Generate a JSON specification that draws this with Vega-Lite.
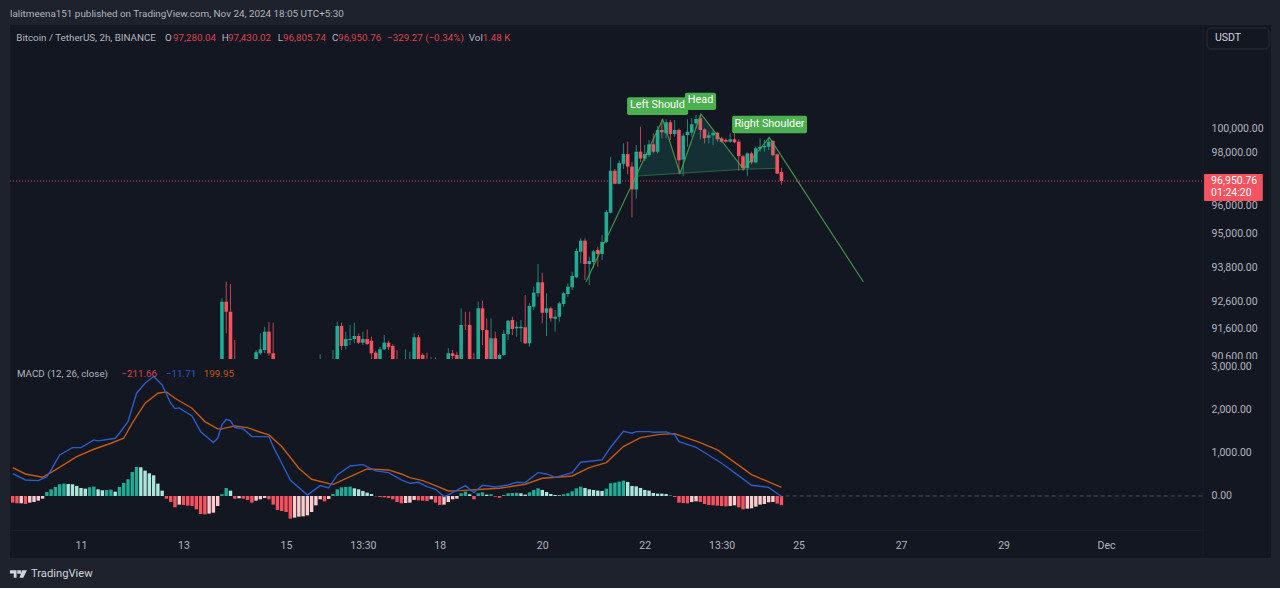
{
  "$schema": "https://vega.github.io/schema/vega-lite/v6.json",
  "background": "#1e222d",
  "padding": {"left": 9, "top": 9, "right": 10, "bottom": 8},
  "autosize": {"type": "pad"},
  "bounds": "flush",
  "spacing": 0,
  "config": {
    "view": {"fill": "#131722", "stroke": null},
    "axis": {"grid": false, "ticks": false, "domain": false, "labelColor": "#b2b5be", "labelFont": "Roboto", "labelFontSize": 10.5, "labelOverlap": false, "labelFlush": false},
    "text": {"font": "Roboto"}
  },
  "datasets": {
    "frame": [{"t": "2024-12-02T22:54Z", "p0": 90493, "p1": 103811, "v0": -1432, "v1": 3166}],
    "candles": [
      {"t":"2024-11-24T17:30Z","o":97280,"h":97430,"l":96805,"c":96950},
      {"t":"2024-11-24T15:30Z","o":97913,"h":97951,"l":97208,"c":97219},
      {"t":"2024-11-24T13:30Z","o":98916,"h":99000,"l":97849,"c":97887},
      {"t":"2024-11-24T11:30Z","o":98441,"h":99191,"l":98167,"c":98858},
      {"t":"2024-11-24T09:30Z","o":98392,"h":99000,"l":98025,"c":98500},
      {"t":"2024-11-24T07:30Z","o":98275,"h":99141,"l":98025,"c":98441},
      {"t":"2024-11-24T05:30Z","o":97623,"h":98441,"l":97596,"c":98308},
      {"t":"2024-11-24T03:30Z","o":97951,"h":98025,"l":97559,"c":97623},
      {"t":"2024-11-24T01:30Z","o":97423,"h":97989,"l":97121,"c":97951},
      {"t":"2024-11-23T23:30Z","o":97849,"h":97887,"l":97321,"c":97423},
      {"t":"2024-11-23T21:30Z","o":98858,"h":99058,"l":97321,"c":97849},
      {"t":"2024-11-23T19:30Z","o":99058,"h":99608,"l":98725,"c":98808},
      {"t":"2024-11-23T17:30Z","o":98858,"h":99558,"l":98775,"c":99058},
      {"t":"2024-11-23T15:30Z","o":99000,"h":99141,"l":98775,"c":98858},
      {"t":"2024-11-23T13:30Z","o":99141,"h":99275,"l":98775,"c":98858},
      {"t":"2024-11-23T11:30Z","o":99608,"h":99691,"l":98858,"c":99058},
      {"t":"2024-11-23T09:30Z","o":99391,"h":99833,"l":98583,"c":99608},
      {"t":"2024-11-23T07:30Z","o":99191,"h":99691,"l":98725,"c":99391},
      {"t":"2024-11-23T05:30Z","o":99891,"h":99975,"l":98725,"c":99141},
      {"t":"2024-11-23T03:30Z","o":100359,"h":100481,"l":99058,"c":99833},
      {"t":"2024-11-23T01:30Z","o":100174,"h":100481,"l":99975,"c":100333},
      {"t":"2024-11-22T23:30Z","o":99608,"h":100359,"l":99275,"c":100137},
      {"t":"2024-11-22T21:30Z","o":99417,"h":100322,"l":98441,"c":99691},
      {"t":"2024-11-22T19:30Z","o":97725,"h":99558,"l":97121,"c":99358},
      {"t":"2024-11-22T17:30Z","o":99833,"h":99975,"l":97196,"c":97698},
      {"t":"2024-11-22T15:30Z","o":99500,"h":100296,"l":99275,"c":99833},
      {"t":"2024-11-22T13:30Z","o":100211,"h":100296,"l":99000,"c":99500},
      {"t":"2024-11-22T11:30Z","o":99558,"h":100322,"l":99141,"c":100211},
      {"t":"2024-11-22T09:30Z","o":99833,"h":100322,"l":99141,"c":99641},
      {"t":"2024-11-22T07:30Z","o":98025,"h":100074,"l":97951,"c":99833},
      {"t":"2024-11-22T05:30Z","o":98641,"h":99558,"l":97951,"c":98025},
      {"t":"2024-11-22T03:30Z","o":97887,"h":99000,"l":97823,"c":98641},
      {"t":"2024-11-22T01:30Z","o":97762,"h":98583,"l":97672,"c":97925},
      {"t":"2024-11-21T23:30Z","o":98025,"h":100048,"l":97634,"c":97762},
      {"t":"2024-11-21T21:30Z","o":96615,"h":98583,"l":96253,"c":98025},
      {"t":"2024-11-21T19:30Z","o":97472,"h":97634,"l":95561,"c":96615},
      {"t":"2024-11-21T17:30Z","o":97925,"h":98858,"l":97196,"c":97472},
      {"t":"2024-11-21T15:30Z","o":97574,"h":98725,"l":97385,"c":97925},
      {"t":"2024-11-21T13:30Z","o":96842,"h":97698,"l":96819,"c":97596},
      {"t":"2024-11-21T11:30Z","o":97321,"h":97385,"l":96819,"c":96842},
      {"t":"2024-11-21T09:30Z","o":95725,"h":97823,"l":95703,"c":97321},
      {"t":"2024-11-21T07:30Z","o":94683,"h":95821,"l":94637,"c":95750},
      {"t":"2024-11-21T05:30Z","o":94259,"h":94930,"l":94047,"c":94683},
      {"t":"2024-11-21T03:30Z","o":94400,"h":94517,"l":93811,"c":94259},
      {"t":"2024-11-21T01:30Z","o":93977,"h":94400,"l":93754,"c":94354},
      {"t":"2024-11-20T23:30Z","o":93906,"h":94164,"l":93165,"c":94012},
      {"t":"2024-11-20T21:30Z","o":94729,"h":94813,"l":93341,"c":93906},
      {"t":"2024-11-20T19:30Z","o":94340,"h":94813,"l":93929,"c":94729},
      {"t":"2024-11-20T17:30Z","o":93437,"h":94460,"l":93401,"c":94364},
      {"t":"2024-11-20T15:30Z","o":93084,"h":93634,"l":92988,"c":93483},
      {"t":"2024-11-20T13:30Z","o":92847,"h":93225,"l":92752,"c":93105},
      {"t":"2024-11-20T11:30Z","o":92489,"h":92928,"l":92388,"c":92872},
      {"t":"2024-11-20T09:30Z","o":92018,"h":92574,"l":91833,"c":92514},
      {"t":"2024-11-20T07:30Z","o":91944,"h":92266,"l":91468,"c":92018},
      {"t":"2024-11-20T05:30Z","o":92329,"h":92388,"l":91833,"c":91959},
      {"t":"2024-11-20T03:30Z","o":92166,"h":92872,"l":91314,"c":92329},
      {"t":"2024-11-20T01:30Z","o":93260,"h":93599,"l":91774,"c":92166},
      {"t":"2024-11-19T23:30Z","o":92872,"h":93906,"l":92752,"c":93260},
      {"t":"2024-11-19T21:30Z","o":92388,"h":93105,"l":92266,"c":92896},
      {"t":"2024-11-19T19:30Z","o":91053,"h":92514,"l":90932,"c":92414},
      {"t":"2024-11-19T17:30Z","o":91626,"h":92812,"l":91028,"c":91053},
      {"t":"2024-11-19T15:30Z","o":91588,"h":91896,"l":91111,"c":91648},
      {"t":"2024-11-19T13:30Z","o":91588,"h":91833,"l":91289,"c":91648},
      {"t":"2024-11-19T11:30Z","o":91896,"h":92018,"l":91350,"c":91564},
      {"t":"2024-11-19T09:30Z","o":91385,"h":91896,"l":91171,"c":91870},
      {"t":"2024-11-19T07:30Z","o":90636,"h":91529,"l":90600,"c":91385},
      {"t":"2024-11-19T05:30Z","o":90480,"h":90696,"l":90421,"c":90636},
      {"t":"2024-11-19T03:30Z","o":91232,"h":91468,"l":90200,"c":90300},
      {"t":"2024-11-19T01:30Z","o":90300,"h":91951,"l":90200,"c":91232},
      {"t":"2024-11-18T23:30Z","o":91529,"h":91951,"l":90200,"c":90300},
      {"t":"2024-11-18T21:30Z","o":92329,"h":92611,"l":90993,"c":91529},
      {"t":"2024-11-18T19:30Z","o":90300,"h":92574,"l":90200,"c":92329},
      {"t":"2024-11-18T17:30Z","o":90500,"h":90696,"l":90300,"c":90400},
      {"t":"2024-11-18T15:30Z","o":91711,"h":92203,"l":90200,"c":90300},
      {"t":"2024-11-18T13:30Z","o":91711,"h":92203,"l":91529,"c":91700},
      {"t":"2024-11-18T11:30Z","o":90300,"h":92329,"l":90200,"c":91711},
      {"t":"2024-11-18T09:30Z","o":90636,"h":90753,"l":90200,"c":90300},
      {"t":"2024-11-18T07:30Z","o":90696,"h":90814,"l":90200,"c":90600},
      {"t":"2024-11-18T05:30Z","o":90300,"h":90875,"l":90200,"c":90696},
      {"t":"2024-11-17T23:30Z","o":90300,"h":90550,"l":90200,"c":90400},
      {"t":"2024-11-17T21:30Z","o":90400,"h":90550,"l":90200,"c":90300},
      {"t":"2024-11-17T19:30Z","o":90450,"h":90718,"l":90200,"c":90350},
      {"t":"2024-11-17T17:30Z","o":90636,"h":90700,"l":90200,"c":90300},
      {"t":"2024-11-17T15:30Z","o":91268,"h":91350,"l":90200,"c":90300},
      {"t":"2024-11-17T13:30Z","o":90300,"h":91410,"l":90200,"c":91268},
      {"t":"2024-11-17T11:30Z","o":90300,"h":90753,"l":90200,"c":90400},
      {"t":"2024-11-17T09:30Z","o":90300,"h":90839,"l":90200,"c":90400},
      {"t":"2024-11-17T05:30Z","o":90450,"h":90814,"l":90200,"c":90350},
      {"t":"2024-11-17T03:30Z","o":90957,"h":91028,"l":90200,"c":90300},
      {"t":"2024-11-17T01:30Z","o":91075,"h":91146,"l":90814,"c":90911},
      {"t":"2024-11-16T23:30Z","o":90839,"h":91350,"l":90814,"c":91075},
      {"t":"2024-11-16T21:30Z","o":90300,"h":90932,"l":90200,"c":90839},
      {"t":"2024-11-16T19:30Z","o":90718,"h":90780,"l":90200,"c":90300},
      {"t":"2024-11-16T17:30Z","o":91146,"h":91289,"l":90400,"c":90696},
      {"t":"2024-11-16T15:30Z","o":91207,"h":91552,"l":90993,"c":91028},
      {"t":"2024-11-16T13:30Z","o":91075,"h":91468,"l":90993,"c":91207},
      {"t":"2024-11-16T11:30Z","o":91314,"h":91410,"l":91028,"c":91075},
      {"t":"2024-11-16T09:30Z","o":91207,"h":91796,"l":91053,"c":91314},
      {"t":"2024-11-16T07:30Z","o":91171,"h":91711,"l":90993,"c":91207},
      {"t":"2024-11-16T05:30Z","o":90957,"h":91468,"l":90839,"c":91207},
      {"t":"2024-11-16T03:30Z","o":91674,"h":91796,"l":90814,"c":90957},
      {"t":"2024-11-16T01:30Z","o":90300,"h":91833,"l":90200,"c":91674},
      {"t":"2024-11-15T23:30Z","o":90300,"h":90814,"l":90200,"c":90400},
      {"t":"2024-11-15T17:30Z","o":90300,"h":90660,"l":90200,"c":90400},
      {"t":"2024-11-14T19:30Z","o":90696,"h":91796,"l":90200,"c":90300},
      {"t":"2024-11-14T17:30Z","o":91468,"h":91833,"l":90600,"c":90696},
      {"t":"2024-11-14T15:30Z","o":90814,"h":91648,"l":90700,"c":91468},
      {"t":"2024-11-14T13:30Z","o":90696,"h":91410,"l":90650,"c":90839},
      {"t":"2024-11-14T11:30Z","o":90300,"h":90814,"l":90200,"c":90732},
      {"t":"2024-11-14T01:30Z","o":90450,"h":91171,"l":90200,"c":90350},
      {"t":"2024-11-13T23:30Z","o":92203,"h":93200,"l":90200,"c":90300},
      {"t":"2024-11-13T21:30Z","o":92574,"h":93281,"l":91410,"c":92203},
      {"t":"2024-11-13T19:30Z","o":90300,"h":92695,"l":90200,"c":92574}
    ],
    "pattern": [
      {"t":"2024-11-20T22:00Z","p":93281},
      {"t":"2024-11-22T09:54Z","p":100322},
      {"t":"2024-11-22T18:00Z","p":97229},
      {"t":"2024-11-23T03:48Z","p":100518},
      {"t":"2024-11-23T23:48Z","p":97374},
      {"t":"2024-11-24T11:48Z","p":99224},
      {"t":"2024-11-26T07:48Z","p":93281}
    ],
    "neckline": [
      {"t":"2024-11-21T22:12Z","p":97131},
      {"t":"2024-11-22T18:00Z","p":97229},
      {"t":"2024-11-23T23:48Z","p":97374},
      {"t":"2024-11-24T15:00Z","p":97410}
    ],
    "patternFill": [
      {"t":"2024-11-21T21:18Z","top":97140,"neck":97140},
      {"t":"2024-11-22T09:54Z","top":100322,"neck":97170},
      {"t":"2024-11-22T18:00Z","top":97229,"neck":97229},
      {"t":"2024-11-23T03:48Z","top":100518,"neck":97276},
      {"t":"2024-11-23T23:48Z","top":97374,"neck":97374},
      {"t":"2024-11-24T11:48Z","top":99224,"neck":97405},
      {"t":"2024-11-24T15:00Z","top":98400,"neck":97410}
    ],
    "lastPrice": [{"t0":"2024-11-09T16:15Z","t1":"2024-12-02T22:54Z","p":96950.76}],
    "leftTag": [{"t0":"2024-11-21T17:12Z","t1":"2024-11-22T21:48Z","p0":100481,"p1":101136,"t":"2024-11-21T18:36Z","p":100833,"label":"Left Should"}],
    "tags": [
      {"t0":"2024-11-22T20:18Z","t1":"2024-11-23T10:54Z","p0":100666,"p1":101306,"t":"2024-11-23T03:36Z","p":101018,"label":"Head"},
      {"t0":"2024-11-23T18:24Z","t1":"2024-11-25T05:30Z","p0":99558,"p1":100455,"t":"2024-11-24T11:54Z","p":100148,"label":"Right Shoulder"}
    ],
    "priceText": [
      {"t":"2024-11-09T16:15Z","p":104218,"label":"lalitmeena151 published on TradingView.com, Nov 24, 2024 18:05 UTC+5:30","kind":"muted"}
    ],
    "legendText": [
      {"t":"2024-11-09T19:12Z","p":103330,"label":"Bitcoin / TetherUS, 2h, BINANCE","kind":"muted"},
      {"t":"2024-11-12T16:48Z","p":103330,"label":"O","kind":"muted"},
      {"t":"2024-11-12T20:36Z","p":103330,"label":"97,280.04","kind":"down"},
      {"t":"2024-11-13T19:24Z","p":103330,"label":"H","kind":"muted"},
      {"t":"2024-11-13T22:18Z","p":103330,"label":"97,430.02","kind":"down"},
      {"t":"2024-11-14T21:36Z","p":103330,"label":"L","kind":"muted"},
      {"t":"2024-11-15T00:06Z","p":103330,"label":"96,805.74","kind":"down"},
      {"t":"2024-11-15T23:00Z","p":103330,"label":"C","kind":"muted"},
      {"t":"2024-11-16T01:54Z","p":103330,"label":"96,950.76","kind":"down"},
      {"t":"2024-11-17T00:48Z","p":103330,"label":"−329.27 (−0.34%)","kind":"down"},
      {"t":"2024-11-18T15:06Z","p":103330,"label":"Vol","kind":"muted"},
      {"t":"2024-11-18T21:36Z","p":103330,"label":"1.48 K","kind":"down"}
    ],
    "priceBox": [{"t0":"2024-12-02T23:24Z","t1":"2024-12-04T02:54Z","p0":96158,"p1":97204}],
    "priceBoxText": [
      {"t":"2024-12-03T02:42Z","p":96950.76,"label":"96,950.76"},
      {"t":"2024-12-03T02:42Z","p":96463,"label":"01:24:20"}
    ],
    "currencyBox": [{"t0":"2024-12-03T00:48Z","t1":"2024-12-04T05:48Z","p0":102923,"p1":103700}],
    "currencyText": [{"t":"2024-12-03T04:30Z","p":103330,"label":"USDT"}],
    "hist": [
      {"t":"2024-11-09T17:30Z","h":-154},{"t":"2024-11-09T19:30Z","h":-169},{"t":"2024-11-09T21:30Z","h":-169},{"t":"2024-11-09T23:30Z","h":-185},
      {"t":"2024-11-10T01:30Z","h":-154},{"t":"2024-11-10T03:30Z","h":-139},{"t":"2024-11-10T05:30Z","h":-108},{"t":"2024-11-10T07:30Z","h":-62},{"t":"2024-11-10T09:30Z","h":92},{"t":"2024-11-10T11:30Z","h":154},{"t":"2024-11-10T13:30Z","h":208},{"t":"2024-11-10T15:30Z","h":270},{"t":"2024-11-10T17:30Z","h":285},{"t":"2024-11-10T19:30Z","h":277},{"t":"2024-11-10T21:30Z","h":270},{"t":"2024-11-10T23:30Z","h":231},
      {"t":"2024-11-11T01:30Z","h":185},{"t":"2024-11-11T03:30Z","h":169},{"t":"2024-11-11T05:30Z","h":200},{"t":"2024-11-11T07:30Z","h":216},{"t":"2024-11-11T09:30Z","h":154},{"t":"2024-11-11T11:30Z","h":131},{"t":"2024-11-11T13:30Z","h":139},{"t":"2024-11-11T15:30Z","h":146},{"t":"2024-11-11T17:30Z","h":100},{"t":"2024-11-11T19:30Z","h":208},{"t":"2024-11-11T21:30Z","h":300},{"t":"2024-11-11T23:30Z","h":385},
      {"t":"2024-11-12T01:30Z","h":554},{"t":"2024-11-12T03:30Z","h":670},{"t":"2024-11-12T05:30Z","h":662},{"t":"2024-11-12T07:30Z","h":585},{"t":"2024-11-12T09:30Z","h":524},{"t":"2024-11-12T11:30Z","h":477},{"t":"2024-11-12T13:30Z","h":285},{"t":"2024-11-12T15:30Z","h":123},{"t":"2024-11-12T17:30Z","h":-62},{"t":"2024-11-12T19:30Z","h":-139},{"t":"2024-11-12T21:30Z","h":-262},{"t":"2024-11-12T23:30Z","h":-200},
      {"t":"2024-11-13T01:30Z","h":-208},{"t":"2024-11-13T03:30Z","h":-223},{"t":"2024-11-13T05:30Z","h":-231},{"t":"2024-11-13T07:30Z","h":-308},{"t":"2024-11-13T09:30Z","h":-416},{"t":"2024-11-13T11:30Z","h":-424},{"t":"2024-11-13T13:30Z","h":-408},{"t":"2024-11-13T15:30Z","h":-385},{"t":"2024-11-13T17:30Z","h":-231},{"t":"2024-11-13T19:30Z","h":39},{"t":"2024-11-13T21:30Z","h":185},{"t":"2024-11-13T23:30Z","h":123},
      {"t":"2024-11-14T01:30Z","h":-62},{"t":"2024-11-14T03:30Z","h":-54},{"t":"2024-11-14T05:30Z","h":-62},{"t":"2024-11-14T07:30Z","h":-92},{"t":"2024-11-14T09:30Z","h":-154},{"t":"2024-11-14T11:30Z","h":-108},{"t":"2024-11-14T13:30Z","h":-77},{"t":"2024-11-14T15:30Z","h":-46},{"t":"2024-11-14T17:30Z","h":-77},{"t":"2024-11-14T19:30Z","h":-200},{"t":"2024-11-14T21:30Z","h":-323},{"t":"2024-11-14T23:30Z","h":-347},
      {"t":"2024-11-15T01:30Z","h":-370},{"t":"2024-11-15T03:30Z","h":-524},{"t":"2024-11-15T05:30Z","h":-500},{"t":"2024-11-15T07:30Z","h":-477},{"t":"2024-11-15T09:30Z","h":-470},{"t":"2024-11-15T11:30Z","h":-447},{"t":"2024-11-15T13:30Z","h":-370},{"t":"2024-11-15T15:30Z","h":-216},{"t":"2024-11-15T17:30Z","h":-77},{"t":"2024-11-15T19:30Z","h":-123},{"t":"2024-11-15T21:30Z","h":-69},{"t":"2024-11-15T23:30Z","h":46},
      {"t":"2024-11-16T01:30Z","h":154},{"t":"2024-11-16T03:30Z","h":200},{"t":"2024-11-16T05:30Z","h":208},{"t":"2024-11-16T07:30Z","h":216},{"t":"2024-11-16T09:30Z","h":177},{"t":"2024-11-16T11:30Z","h":154},{"t":"2024-11-16T13:30Z","h":116},{"t":"2024-11-16T15:30Z","h":77},{"t":"2024-11-16T17:30Z","h":46},{"t":"2024-11-16T19:30Z","h":-8},{"t":"2024-11-16T21:30Z","h":-23},{"t":"2024-11-16T23:30Z","h":-31},
      {"t":"2024-11-17T01:30Z","h":-46},{"t":"2024-11-17T03:30Z","h":-77},{"t":"2024-11-17T05:30Z","h":-139},{"t":"2024-11-17T07:30Z","h":-169},{"t":"2024-11-17T09:30Z","h":-162},{"t":"2024-11-17T11:30Z","h":-154},{"t":"2024-11-17T13:30Z","h":-92},{"t":"2024-11-17T15:30Z","h":-100},{"t":"2024-11-17T17:30Z","h":-108},{"t":"2024-11-17T19:30Z","h":-116},{"t":"2024-11-17T21:30Z","h":-77},{"t":"2024-11-17T23:30Z","h":-154},
      {"t":"2024-11-18T01:30Z","h":-208},{"t":"2024-11-18T03:30Z","h":-200},{"t":"2024-11-18T05:30Z","h":-139},{"t":"2024-11-18T07:30Z","h":-77},{"t":"2024-11-18T09:30Z","h":-62},{"t":"2024-11-18T11:30Z","h":62},{"t":"2024-11-18T13:30Z","h":100},{"t":"2024-11-18T15:30Z","h":39},{"t":"2024-11-18T17:30Z","h":-77},{"t":"2024-11-18T19:30Z","h":62},{"t":"2024-11-18T21:30Z","h":85},{"t":"2024-11-18T23:30Z","h":31},
      {"t":"2024-11-19T01:30Z","h":39},{"t":"2024-11-19T03:30Z","h":-15},{"t":"2024-11-19T05:30Z","h":-39},{"t":"2024-11-19T07:30Z","h":23},{"t":"2024-11-19T09:30Z","h":62},{"t":"2024-11-19T11:30Z","h":69},{"t":"2024-11-19T13:30Z","h":73},{"t":"2024-11-19T15:30Z","h":62},{"t":"2024-11-19T17:30Z","h":31},{"t":"2024-11-19T19:30Z","h":85},{"t":"2024-11-19T21:30Z","h":139},{"t":"2024-11-19T23:30Z","h":177},
      {"t":"2024-11-20T01:30Z","h":139},{"t":"2024-11-20T03:30Z","h":92},{"t":"2024-11-20T05:30Z","h":46},{"t":"2024-11-20T07:30Z","h":23},{"t":"2024-11-20T09:30Z","h":15},{"t":"2024-11-20T11:30Z","h":39},{"t":"2024-11-20T13:30Z","h":62},{"t":"2024-11-20T15:30Z","h":108},{"t":"2024-11-20T17:30Z","h":177},{"t":"2024-11-20T19:30Z","h":216},{"t":"2024-11-20T21:30Z","h":185},{"t":"2024-11-20T23:30Z","h":154},
      {"t":"2024-11-21T01:30Z","h":139},{"t":"2024-11-21T03:30Z","h":123},{"t":"2024-11-21T05:30Z","h":116},{"t":"2024-11-21T07:30Z","h":169},{"t":"2024-11-21T09:30Z","h":293},{"t":"2024-11-21T11:30Z","h":308},{"t":"2024-11-21T13:30Z","h":331},{"t":"2024-11-21T15:30Z","h":354},{"t":"2024-11-21T17:30Z","h":323},{"t":"2024-11-21T19:30Z","h":231},{"t":"2024-11-21T21:30Z","h":223},{"t":"2024-11-21T23:30Z","h":185},
      {"t":"2024-11-22T01:30Z","h":139},{"t":"2024-11-22T03:30Z","h":123},{"t":"2024-11-22T05:30Z","h":69},{"t":"2024-11-22T07:30Z","h":54},{"t":"2024-11-22T09:30Z","h":54},{"t":"2024-11-22T11:30Z","h":46},{"t":"2024-11-22T13:30Z","h":8},{"t":"2024-11-22T15:30Z","h":-23},{"t":"2024-11-22T17:30Z","h":-154},{"t":"2024-11-22T19:30Z","h":-162},{"t":"2024-11-22T21:30Z","h":-169},{"t":"2024-11-22T23:30Z","h":-139},
      {"t":"2024-11-23T01:30Z","h":-123},{"t":"2024-11-23T03:30Z","h":-139},{"t":"2024-11-23T05:30Z","h":-185},{"t":"2024-11-23T07:30Z","h":-208},{"t":"2024-11-23T09:30Z","h":-216},{"t":"2024-11-23T11:30Z","h":-223},{"t":"2024-11-23T13:30Z","h":-231},{"t":"2024-11-23T15:30Z","h":-239},{"t":"2024-11-23T17:30Z","h":-231},{"t":"2024-11-23T19:30Z","h":-216},{"t":"2024-11-23T21:30Z","h":-262},{"t":"2024-11-23T23:30Z","h":-308},
      {"t":"2024-11-24T01:30Z","h":-293},{"t":"2024-11-24T03:30Z","h":-285},{"t":"2024-11-24T05:30Z","h":-246},{"t":"2024-11-24T07:30Z","h":-200},{"t":"2024-11-24T09:30Z","h":-185},{"t":"2024-11-24T11:30Z","h":-146},{"t":"2024-11-24T13:30Z","h":-139},{"t":"2024-11-24T15:30Z","h":-177},{"t":"2024-11-24T17:30Z","h":-211.66}
    ],
    "macd": [
      {"t":"2024-11-09T17:30Z","v":516},{"t":"2024-11-09T23:30Z","v":370},{"t":"2024-11-10T05:30Z","v":354},{"t":"2024-11-10T09:30Z","v":447},{"t":"2024-11-10T11:30Z","v":601},{"t":"2024-11-10T15:30Z","v":947},{"t":"2024-11-10T21:30Z","v":1117},{"t":"2024-11-11T01:30Z","v":1117},{"t":"2024-11-11T07:30Z","v":1294},{"t":"2024-11-11T09:30Z","v":1271},{"t":"2024-11-11T17:30Z","v":1332},{"t":"2024-11-11T19:30Z","v":1448},{"t":"2024-11-11T23:30Z","v":1717},{"t":"2024-11-12T03:30Z","v":2372},{"t":"2024-11-12T07:30Z","v":2603},{"t":"2024-11-12T11:30Z","v":2757},{"t":"2024-11-12T15:30Z","v":2564},{"t":"2024-11-12T19:30Z","v":2141},{"t":"2024-11-12T21:30Z","v":2017},{"t":"2024-11-12T23:30Z","v":2033},{"t":"2024-11-13T05:30Z","v":1848},{"t":"2024-11-13T09:30Z","v":1486},{"t":"2024-11-13T15:30Z","v":1232},{"t":"2024-11-13T17:30Z","v":1332},{"t":"2024-11-13T19:30Z","v":1640},{"t":"2024-11-13T21:30Z","v":1771},{"t":"2024-11-13T23:30Z","v":1733},{"t":"2024-11-14T01:30Z","v":1579},{"t":"2024-11-14T05:30Z","v":1548},{"t":"2024-11-14T09:30Z","v":1371},{"t":"2024-11-14T17:30Z","v":1371},{"t":"2024-11-14T19:30Z","v":1140},{"t":"2024-11-14T23:30Z","v":755},{"t":"2024-11-15T03:30Z","v":370},{"t":"2024-11-15T11:30Z","v":23},{"t":"2024-11-15T17:30Z","v":239},{"t":"2024-11-15T21:30Z","v":185},{"t":"2024-11-16T01:30Z","v":485},{"t":"2024-11-16T07:30Z","v":693},{"t":"2024-11-16T13:30Z","v":724},{"t":"2024-11-16T19:30Z","v":578},{"t":"2024-11-17T01:30Z","v":539},{"t":"2024-11-17T07:30Z","v":370},{"t":"2024-11-17T11:30Z","v":293},{"t":"2024-11-17T15:30Z","v":316},{"t":"2024-11-17T19:30Z","v":216},{"t":"2024-11-17T23:30Z","v":154},{"t":"2024-11-18T03:30Z","v":-15},{"t":"2024-11-18T05:30Z","v":23},{"t":"2024-11-18T13:30Z","v":239},{"t":"2024-11-18T17:30Z","v":77},{"t":"2024-11-18T21:30Z","v":246},{"t":"2024-11-19T03:30Z","v":208},{"t":"2024-11-19T09:30Z","v":254},{"t":"2024-11-19T13:30Z","v":316},{"t":"2024-11-19T17:30Z","v":308},{"t":"2024-11-19T23:30Z","v":539},{"t":"2024-11-20T03:30Z","v":508},{"t":"2024-11-20T07:30Z","v":431},{"t":"2024-11-20T15:30Z","v":539},{"t":"2024-11-20T19:30Z","v":778},{"t":"2024-11-21T05:30Z","v":832},{"t":"2024-11-21T09:30Z","v":1124},{"t":"2024-11-21T15:30Z","v":1494},{"t":"2024-11-21T19:30Z","v":1448},{"t":"2024-11-21T21:30Z","v":1486},{"t":"2024-11-22T03:30Z","v":1486},{"t":"2024-11-22T05:30Z","v":1471},{"t":"2024-11-22T11:30Z","v":1478},{"t":"2024-11-22T15:30Z","v":1409},{"t":"2024-11-22T17:30Z","v":1255},{"t":"2024-11-23T01:30Z","v":1124},{"t":"2024-11-23T13:30Z","v":755},{"t":"2024-11-23T19:30Z","v":539},{"t":"2024-11-24T03:30Z","v":246},{"t":"2024-11-24T11:30Z","v":200},{"t":"2024-11-24T17:30Z","v":-11.71}
    ],
    "signal": [
      {"t":"2024-11-09T17:30Z","v":655},{"t":"2024-11-09T23:30Z","v":508},{"t":"2024-11-10T07:30Z","v":431},{"t":"2024-11-10T13:30Z","v":601},{"t":"2024-11-10T23:30Z","v":909},{"t":"2024-11-11T07:30Z","v":1078},{"t":"2024-11-11T15:30Z","v":1217},{"t":"2024-11-11T21:30Z","v":1332},{"t":"2024-11-12T01:30Z","v":1679},{"t":"2024-11-12T07:30Z","v":2141},{"t":"2024-11-12T13:30Z","v":2372},{"t":"2024-11-12T17:30Z","v":2402},{"t":"2024-11-12T21:30Z","v":2256},{"t":"2024-11-13T05:30Z","v":2025},{"t":"2024-11-13T11:30Z","v":1717},{"t":"2024-11-13T17:30Z","v":1548},{"t":"2024-11-13T19:30Z","v":1548},{"t":"2024-11-14T01:30Z","v":1617},{"t":"2024-11-14T07:30Z","v":1579},{"t":"2024-11-14T13:30Z","v":1471},{"t":"2024-11-14T17:30Z","v":1409},{"t":"2024-11-14T23:30Z","v":1140},{"t":"2024-11-15T07:30Z","v":639},{"t":"2024-11-15T13:30Z","v":385},{"t":"2024-11-15T23:30Z","v":262},{"t":"2024-11-16T07:30Z","v":447},{"t":"2024-11-16T15:30Z","v":624},{"t":"2024-11-17T01:30Z","v":601},{"t":"2024-11-17T07:30Z","v":508},{"t":"2024-11-17T11:30Z","v":424},{"t":"2024-11-17T17:30Z","v":354},{"t":"2024-11-17T23:30Z","v":239},{"t":"2024-11-18T05:30Z","v":116},{"t":"2024-11-18T11:30Z","v":123},{"t":"2024-11-18T21:30Z","v":154},{"t":"2024-11-19T05:30Z","v":177},{"t":"2024-11-19T17:30Z","v":270},{"t":"2024-11-20T01:30Z","v":408},{"t":"2024-11-20T15:30Z","v":462},{"t":"2024-11-20T23:30Z","v":655},{"t":"2024-11-21T07:30Z","v":770},{"t":"2024-11-21T15:30Z","v":1140},{"t":"2024-11-21T23:30Z","v":1348},{"t":"2024-11-22T07:30Z","v":1417},{"t":"2024-11-22T15:30Z","v":1440},{"t":"2024-11-23T03:30Z","v":1232},{"t":"2024-11-23T11:30Z","v":1063},{"t":"2024-11-24T03:30Z","v":493},{"t":"2024-11-24T17:30Z","v":199.95}
    ],
    "zeroLine": [{"t0":"2024-11-24T19:30Z","t1":"2024-12-02T22:54Z","v":0}],
    "macdText": [
      {"t":"2024-11-09T19:30Z","v":2818,"label":"MACD (12, 26, close)","kind":"muted"},
      {"t":"2024-11-11T20:24Z","v":2818,"label":"−211.66","kind":"down"},
      {"t":"2024-11-12T17:18Z","v":2818,"label":"−11.71","kind":"macd"},
      {"t":"2024-11-13T11:00Z","v":2818,"label":"199.95","kind":"signal"}
    ],
    "brandMark": [{"t":"2024-11-09T20:12Z","v":-1801}],
    "brandText": [{"t":"2024-11-10T02:06Z","v":-1801,"label":"TradingView"}]
  },
  "vconcat": [
    {
      "width": 1261,
      "height": 334,
      "layer": [
        {
          "data": {"name": "frame"},
          "mark": {"type": "rule", "color": "#1a1e29"},
          "encoding": {
            "x": {
              "field": "t", "type": "temporal",
              "scale": {"type": "utc", "domain": ["2024-11-09T16:15Z", "2024-12-02T22:54Z"], "range": [0, 1193], "padding": 0},
              "axis": {"title": null, "labels": false}
            },
            "y": {
              "field": "p0", "type": "quantitative",
              "scale": {"domain": [90493, 90600, 91600, 92600, 93800, 95000, 96000, 96950.76, 98000, 100000, 103811], "range": [334, 331, 303, 276, 242, 208, 180, 156, 127, 103, 0], "zero": false, "nice": false, "padding": 0},
              "axis": {"title": null, "orient": "right", "offset": -68, "labelPadding": 8, "values": [90600, 91600, 92600, 93800, 95000, 96000, 98000, 100000], "format": ",.2f"}
            },
            "y2": {"field": "p1"}
          }
        },
        {
          "data": {"name": "candles"},
          "mark": {"type": "rule", "strokeWidth": 1, "opacity": 0.75, "clip": true},
          "encoding": {
            "x": {"field": "t", "type": "temporal"},
            "y": {"field": "l", "type": "quantitative"},
            "y2": {"field": "h"},
            "color": {"condition": {"test": "datum.c >= datum.o", "value": "#22ab94"}, "value": "#f7525f"}
          }
        },
        {
          "data": {"name": "candles"},
          "mark": {"type": "bar", "size": 3.6, "clip": true},
          "encoding": {
            "x": {"field": "t", "type": "temporal"},
            "y": {"field": "o", "type": "quantitative"},
            "y2": {"field": "c"},
            "color": {"condition": {"test": "datum.c >= datum.o", "value": "#22ab94"}, "value": "#f7525f"}
          }
        },
        {
          "data": {"name": "lastPrice"},
          "mark": {"type": "rule", "color": "#f7525f", "strokeWidth": 1, "strokeDash": [1, 2], "opacity": 0.85},
          "encoding": {
            "x": {"field": "t0", "type": "temporal"},
            "x2": {"field": "t1"},
            "y": {"field": "p", "type": "quantitative"}
          }
        },
        {
          "data": {"name": "patternFill"},
          "mark": {"type": "area", "color": "#22ab94", "opacity": 0.17},
          "encoding": {
            "x": {"field": "t", "type": "temporal"},
            "y": {"field": "top", "type": "quantitative"},
            "y2": {"field": "neck"}
          }
        },
        {
          "data": {"name": "neckline"},
          "mark": {"type": "line", "color": "#4caf50", "strokeWidth": 1, "opacity": 0.45},
          "encoding": {
            "x": {"field": "t", "type": "temporal"},
            "y": {"field": "p", "type": "quantitative"}
          }
        },
        {
          "data": {"name": "pattern"},
          "mark": {"type": "line", "color": "#4caf50", "strokeWidth": 1.2, "opacity": 0.8},
          "encoding": {
            "x": {"field": "t", "type": "temporal"},
            "y": {"field": "p", "type": "quantitative"}
          }
        },
        {
          "data": {"name": "leftTag"},
          "mark": {"type": "rect", "color": "#4caf50", "cornerRadius": 2},
          "encoding": {
            "x": {"field": "t0", "type": "temporal"},
            "x2": {"field": "t1"},
            "y": {"field": "p0", "type": "quantitative"},
            "y2": {"field": "p1"}
          }
        },
        {
          "data": {"name": "leftTag"},
          "mark": {"type": "text", "align": "left", "baseline": "middle", "color": "#ffffff", "fontSize": 10.8},
          "encoding": {
            "x": {"field": "t", "type": "temporal"},
            "y": {"field": "p", "type": "quantitative"},
            "text": {"field": "label"}
          }
        },
        {
          "data": {"name": "tags"},
          "mark": {"type": "rect", "color": "#4caf50", "cornerRadius": 2},
          "encoding": {
            "x": {"field": "t0", "type": "temporal"},
            "x2": {"field": "t1"},
            "y": {"field": "p0", "type": "quantitative"},
            "y2": {"field": "p1"}
          }
        },
        {
          "data": {"name": "tags"},
          "mark": {"type": "text", "align": "center", "baseline": "middle", "color": "#ffffff", "fontSize": 10.8},
          "encoding": {
            "x": {"field": "t", "type": "temporal"},
            "y": {"field": "p", "type": "quantitative"},
            "text": {"field": "label"}
          }
        },
        {
          "data": {"name": "priceBox"},
          "mark": {"type": "rect", "color": "#f7525f", "cornerRadius": 1},
          "encoding": {
            "x": {"field": "t0", "type": "temporal"},
            "x2": {"field": "t1"},
            "y": {"field": "p0", "type": "quantitative"},
            "y2": {"field": "p1"}
          }
        },
        {
          "data": {"name": "priceBoxText"},
          "mark": {"type": "text", "align": "left", "baseline": "middle", "color": "#ffffff", "fontSize": 10.5},
          "encoding": {
            "x": {"field": "t", "type": "temporal"},
            "y": {"field": "p", "type": "quantitative"},
            "text": {"field": "label"}
          }
        },
        {
          "data": {"name": "currencyBox"},
          "mark": {"type": "rect", "fill": "#131722", "stroke": "#2a2e39", "strokeWidth": 1, "cornerRadius": 4},
          "encoding": {
            "x": {"field": "t0", "type": "temporal"},
            "x2": {"field": "t1"},
            "y": {"field": "p0", "type": "quantitative"},
            "y2": {"field": "p1"}
          }
        },
        {
          "data": {"name": "currencyText"},
          "mark": {"type": "text", "align": "left", "baseline": "middle", "color": "#d1d4dc", "fontSize": 10.5},
          "encoding": {
            "x": {"field": "t", "type": "temporal"},
            "y": {"field": "p", "type": "quantitative"},
            "text": {"field": "label"}
          }
        },
        {
          "data": {"name": "priceText"},
          "mark": {"type": "text", "align": "left", "baseline": "middle", "color": "#b2b5be", "fontSize": 9.9},
          "encoding": {
            "x": {"field": "t", "type": "temporal"},
            "y": {"field": "p", "type": "quantitative"},
            "text": {"field": "label"}
          }
        },
        {
          "data": {"name": "legendText"},
          "mark": {"type": "text", "align": "left", "baseline": "middle", "fontSize": 9.8},
          "encoding": {
            "x": {"field": "t", "type": "temporal"},
            "y": {"field": "p", "type": "quantitative"},
            "text": {"field": "label"},
            "color": {"field": "kind", "type": "nominal", "legend": null, "scale": {"domain": ["muted", "down", "macd", "signal"], "range": ["#b2b5be", "#d9434f", "#2b5cc8", "#c45a10"]}}
          }
        }
      ]
    },
    {
      "width": 1261,
      "height": 199,
      "layer": [
        {
          "data": {"name": "frame"},
          "mark": {"type": "rule", "color": "#1a1e29"},
          "encoding": {
            "x": {
              "field": "t", "type": "temporal",
              "scale": {"type": "utc", "domain": ["2024-11-09T16:15Z", "2024-12-02T22:54Z"], "range": [0, 1193], "padding": 0},
              "axis": {
                "title": null, "orient": "bottom", "offset": -28, "labelPadding": 10, "domain": true, "domainColor": "#1a1e29",
                "values": ["2024-11-11T01:30Z", "2024-11-13T01:30Z", "2024-11-15T01:30Z", "2024-11-16T13:30Z", "2024-11-18T01:30Z", "2024-11-20T01:30Z", "2024-11-22T01:30Z", "2024-11-23T13:30Z", "2024-11-25T01:30Z", "2024-11-27T01:30Z", "2024-11-29T01:30Z", "2024-12-01T01:30Z"],
                "labelExpr": "utchours(datum.value) == 13 ? '13:30' : utcmonth(datum.value) == 11 ? 'Dec' : '' + utcdate(datum.value)"
              }
            },
            "y": {
              "field": "v0", "type": "quantitative",
              "scale": {"domain": [-1000, 3000], "range": [180.3, 7], "zero": false, "nice": false, "padding": 0},
              "axis": {"title": null, "orient": "right", "offset": -68, "labelPadding": 8, "values": [0, 1000, 2000, 3000], "format": ",.2f"}
            },
            "y2": {"field": "v1"}
          }
        },
        {
          "mark": {"type": "rule", "color": "#0b0d13", "strokeWidth": 1.5},
          "encoding": {"y": {"datum": 3166}}
        },
        {
          "data": {"name": "zeroLine"},
          "mark": {"type": "rule", "color": "#4a4e59", "strokeWidth": 1, "strokeDash": [4, 3]},
          "encoding": {
            "x": {"field": "t0", "type": "temporal"},
            "x2": {"field": "t1"},
            "y": {"field": "v", "type": "quantitative"}
          }
        },
        {
          "data": {"name": "hist"},
          "transform": [{"window": [{"op": "lag", "field": "h", "as": "prev"}], "sort": [{"field": "t"}]}],
          "mark": {"type": "bar", "size": 3.4},
          "encoding": {
            "x": {"field": "t", "type": "temporal"},
            "y": {"field": "h", "type": "quantitative"},
            "y2": {"datum": 0},
            "color": {
              "condition": [
                {"test": "datum.h >= 0 && datum.h > datum.prev", "value": "#22ab94"},
                {"test": "datum.h >= 0", "value": "#ace5dc"},
                {"test": "datum.h < datum.prev", "value": "#f7525f"}
              ],
              "value": "#fccbcd"
            }
          }
        },
        {
          "data": {"name": "signal"},
          "mark": {"type": "line", "color": "#c45a10", "strokeWidth": 1.4, "clip": true},
          "encoding": {
            "x": {"field": "t", "type": "temporal"},
            "y": {"field": "v", "type": "quantitative"}
          }
        },
        {
          "data": {"name": "macd"},
          "mark": {"type": "line", "color": "#2b5cc8", "strokeWidth": 1.4, "clip": true},
          "encoding": {
            "x": {"field": "t", "type": "temporal"},
            "y": {"field": "v", "type": "quantitative"}
          }
        },
        {
          "data": {"name": "macdText"},
          "mark": {"type": "text", "align": "left", "baseline": "middle", "fontSize": 9.8},
          "encoding": {
            "x": {"field": "t", "type": "temporal"},
            "y": {"field": "v", "type": "quantitative"},
            "text": {"field": "label"},
            "color": {"field": "kind", "type": "nominal", "legend": null, "scale": {"domain": ["muted", "down", "macd", "signal"], "range": ["#b2b5be", "#d9434f", "#2b5cc8", "#c45a10"]}}
          }
        },
        {
          "data": {"name": "brandMark"},
          "mark": {"type": "point", "filled": true, "opacity": 1, "color": "#d1d4dc", "size": 289, "shape": "M-1,-0.45 H-0.22 V0.45 H-0.55 V-0.05 H-1 Z M0.42,-0.45 H1 L0.58,0.45 H0.12 Z M-0.14,-0.45 H0.3 V-0.02 H-0.14 Z"},
          "encoding": {
            "x": {"field": "t", "type": "temporal"},
            "y": {"field": "v", "type": "quantitative"}
          }
        },
        {
          "data": {"name": "brandText"},
          "mark": {"type": "text", "align": "left", "baseline": "middle", "color": "#d1d4dc", "fontSize": 11.2},
          "encoding": {
            "x": {"field": "t", "type": "temporal"},
            "y": {"field": "v", "type": "quantitative"},
            "text": {"field": "label"}
          }
        }
      ]
    }
  ]
}
